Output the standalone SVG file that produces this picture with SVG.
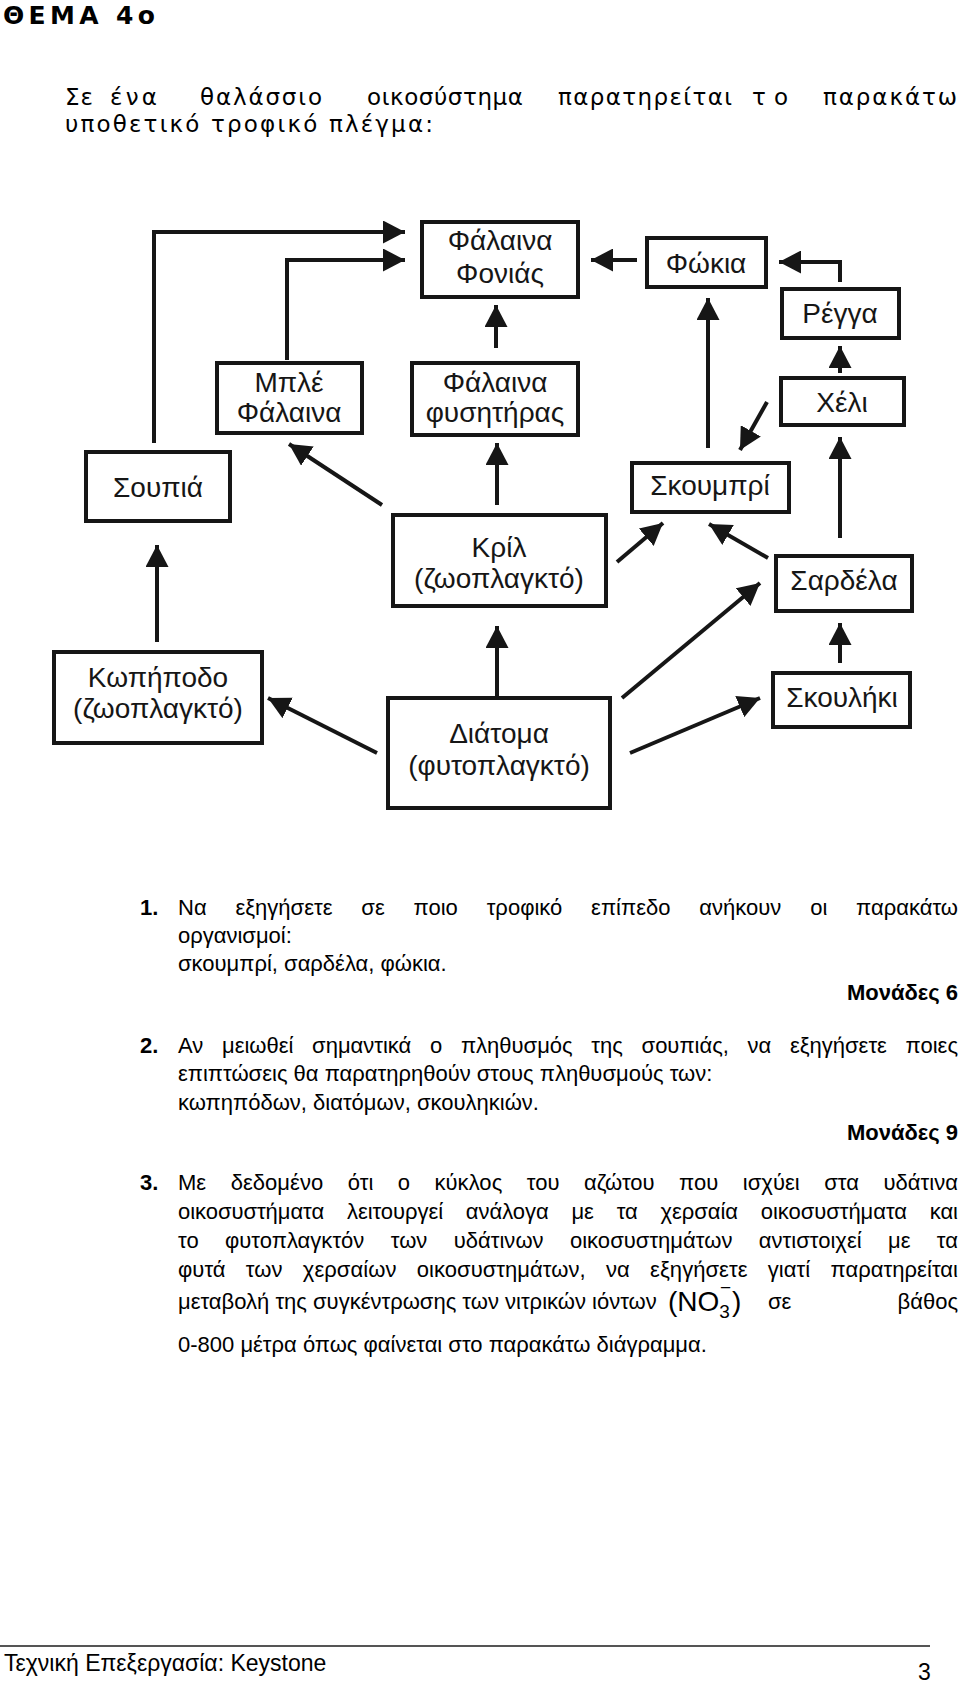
<svg xmlns="http://www.w3.org/2000/svg" width="960" height="1687" viewBox="0 0 960 1687">
<defs>
<marker id="ah" markerUnits="userSpaceOnUse" markerWidth="22" markerHeight="23" refX="22" refY="11.5" orient="auto">
<path d="M0,0 L22,11.5 L0,23 z" fill="#161616"/>
</marker>
<style>
.bx{fill:#fff;stroke:#161616;stroke-width:4}
.lb{font-family:"Liberation Sans",Arial,sans-serif;font-size:28px;fill:#161616;text-anchor:middle}
.cn{fill:none;stroke:#161616;stroke-width:4;marker-end:url(#ah)}
.p{font-family:"DejaVu Sans",Verdana,sans-serif;font-size:23px;fill:#000}
.t{font-family:"DejaVu Sans",Verdana,sans-serif;font-size:25px;font-weight:bold;fill:#000}
.q{font-family:"Liberation Sans",Arial,sans-serif;font-size:22px;fill:#000}
.ft{font-family:"Liberation Sans",Arial,sans-serif;font-size:23px;fill:#000}
.b{font-weight:bold}
.f{font-family:"Liberation Sans",Arial,sans-serif;fill:#000}
</style>
</defs>
<rect width="960" height="1687" fill="#fff"/>

<text class="t" x="3" y="24" textLength="152" lengthAdjust="spacing">ΘΕΜΑ 4ο</text>

<g class="p">
<text x="65" y="105" textLength="28" lengthAdjust="spacing">Σε</text>
<text x="110" y="105" textLength="47" lengthAdjust="spacing">ένα</text>
<text x="200" y="105" textLength="122" lengthAdjust="spacing">θαλάσσιο</text>
<text x="367" y="105" textLength="156" lengthAdjust="spacing">οικοσύστημα</text>
<text x="558" y="105" textLength="174" lengthAdjust="spacing">παρατηρείται</text>
<text x="752" y="105" textLength="36" lengthAdjust="spacing">το</text>
<text x="823" y="105" textLength="134" lengthAdjust="spacing">παρακάτω</text>
<text x="65" y="132" textLength="368" lengthAdjust="spacing">υποθετικό τροφικό πλέγμα:</text>
</g>

<g id="connectors">
<polyline class="cn" points="154,443 154,232 405,232"/>
<polyline class="cn" points="287,360 287,260 405,260"/>
<line class="cn" x1="496" y1="348" x2="496" y2="305"/>
<line class="cn" x1="637" y1="260" x2="591" y2="260"/>
<polyline class="cn" points="840,282 840,262 779,262"/>
<line class="cn" x1="840" y1="373" x2="840" y2="346"/>
<line class="cn" x1="708" y1="448" x2="708" y2="298"/>
<line class="cn" x1="767" y1="402" x2="740" y2="450"/>
<line class="cn" x1="840" y1="538" x2="840" y2="437"/>
<line class="cn" x1="768" y1="558" x2="709" y2="524"/>
<line class="cn" x1="617" y1="562" x2="663" y2="523"/>
<line class="cn" x1="497" y1="505" x2="497" y2="443"/>
<line class="cn" x1="382" y1="505" x2="289" y2="444"/>
<line class="cn" x1="157" y1="642" x2="157" y2="545"/>
<line class="cn" x1="377" y1="753" x2="268" y2="698"/>
<line class="cn" x1="497" y1="698" x2="497" y2="626"/>
<line class="cn" x1="622" y1="698" x2="760" y2="583"/>
<line class="cn" x1="630" y1="753" x2="760" y2="698"/>
<line class="cn" x1="840" y1="663" x2="840" y2="623"/>
</g>

<g id="n-falaina-fonias"><rect class="bx" x="422" y="222" width="156" height="75"/><text class="lb" x="500" y="250">Φάλαινα</text><text class="lb" x="500" y="283">Φονιάς</text></g>
<g id="n-fokia"><rect class="bx" x="647" y="238" width="119" height="49"/><text class="lb" x="706" y="273">Φώκια</text></g>
<g id="n-regga"><rect class="bx" x="782" y="289" width="117" height="49"/><text class="lb" x="840" y="323">Ρέγγα</text></g>
<g id="n-xeli"><rect class="bx" x="781" y="378" width="123" height="47"/><text class="lb" x="842" y="412">Χέλι</text></g>
<g id="n-mple"><rect class="bx" x="217" y="363" width="145" height="70"/><text class="lb" x="289" y="392">Μπλέ</text><text class="lb" x="289" y="422">Φάλαινα</text></g>
<g id="n-fysitiras"><rect class="bx" x="412" y="363" width="166" height="72"/><text class="lb" x="495" y="392">Φάλαινα</text><text class="lb" x="495" y="422">φυσητήρας</text></g>
<g id="n-soupia"><rect class="bx" x="86" y="452" width="144" height="69"/><text class="lb" x="158" y="497">Σουπιά</text></g>
<g id="n-skoumpri"><rect class="bx" x="632" y="463" width="157" height="49"/><text class="lb" x="710" y="495">Σκουμπρί</text></g>
<g id="n-kril"><rect class="bx" x="393" y="515" width="213" height="91"/><text class="lb" x="499" y="557">Κρίλ</text><text class="lb" x="499" y="588">(ζωοπλαγκτό)</text></g>
<g id="n-sardela"><rect class="bx" x="776" y="556" width="136" height="55"/><text class="lb" x="844" y="590">Σαρδέλα</text></g>
<g id="n-kopipodo"><rect class="bx" x="54" y="652" width="208" height="91"/><text class="lb" x="158" y="687">Κωπήποδο</text><text class="lb" x="158" y="718">(ζωοπλαγκτό)</text></g>
<g id="n-diatoma"><rect class="bx" x="388" y="698" width="222" height="110"/><text class="lb" x="499" y="743">Διάτομα</text><text class="lb" x="499" y="775">(φυτοπλαγκτό)</text></g>
<g id="n-skouliki"><rect class="bx" x="773" y="673" width="137" height="54"/><text class="lb" x="842" y="707">Σκουλήκι</text></g>

<g class="q">
<text class="b" x="140" y="915">1.</text>
<text x="178" y="915" word-spacing="22.7" textLength="780" lengthAdjust="spacing">Να εξηγήσετε σε ποιο τροφικό επίπεδο ανήκουν οι παρακάτω</text>
<text x="178" y="943">οργανισμοί:</text>
<text x="178" y="971">σκουμπρί, σαρδέλα, φώκια.</text>
<text class="b" x="958" y="1000" text-anchor="end">Μονάδες 6</text>
<text class="b" x="140" y="1053">2.</text>
<text x="178" y="1053" word-spacing="12.6" textLength="780" lengthAdjust="spacing">Αν μειωθεί σημαντικά ο πληθυσμός της σουπιάς, να εξηγήσετε ποιες</text>
<text x="178" y="1081">επιπτώσεις θα παρατηρηθούν στους πληθυσμούς των:</text>
<text x="178" y="1110">κωπηπόδων, διατόμων, σκουληκιών.</text>
<text class="b" x="958" y="1140" text-anchor="end">Μονάδες 9</text>
<text class="b" x="140" y="1190">3.</text>
<text x="178" y="1190" word-spacing="18.3" textLength="780" lengthAdjust="spacing">Με δεδομένο ότι ο κύκλος του αζώτου που ισχύει στα υδάτινα</text>
<text x="178" y="1219" word-spacing="16.8" textLength="780" lengthAdjust="spacing">οικοσυστήματα λειτουργεί ανάλογα με τα χερσαία οικοσυστήματα και</text>
<text x="178" y="1248" word-spacing="20.2" textLength="780" lengthAdjust="spacing">το φυτοπλαγκτόν των υδάτινων οικοσυστημάτων αντιστοιχεί με τα</text>
<text x="178" y="1277" word-spacing="14.1" textLength="780" lengthAdjust="spacing">φυτά των χερσαίων οικοσυστημάτων, να εξηγήσετε γιατί παρατηρείται</text>
<text x="178" y="1309">μεταβολή της συγκέντρωσης των νιτρικών ιόντων</text>
<text x="768" y="1309">σε</text>
<text x="958" y="1309" text-anchor="end">βάθος</text>
<text x="178" y="1352">0-800 μέτρα όπως φαίνεται στο παρακάτω διάγραμμα.</text>
</g>
<g id="formula" class="f">
<text x="668" y="1311" font-size="28">(NO<tspan font-size="19" dy="7">3</tspan><tspan font-size="19" x="720" dy="-24">−</tspan><tspan font-size="28" x="732" dy="17">)</tspan></text>
</g>

<line x1="0" y1="1646" x2="930" y2="1646" stroke="#555" stroke-width="2"/>
<text class="ft" x="4" y="1671">Τεχνική Επεξεργασία: Keystone</text>
<text class="ft" x="918" y="1680">3</text>
</svg>
